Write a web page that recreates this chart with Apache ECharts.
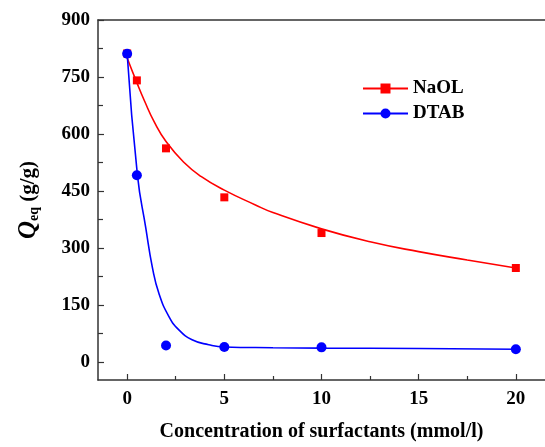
<!DOCTYPE html>
<html>
<head>
<meta charset="utf-8">
<script src="https://cdn.jsdelivr.net/npm/echarts@6/dist/echarts.min.js"></script>
<style>html,body{margin:0;padding:0;background:#fff}#chart{width:545px;height:447px}</style>
</head>
<body>
<div id="chart"></div>
<script>
// measured points
var conc = [0, 0.5, 2, 5, 10, 20];
var naolVals = [812, 741, 562, 433, 339, 247];
var dtabVals = [811, 491, 43, 39, 38, 33];

// fitted curves
var naolFitX = [0, 0.5, 0.9, 1.4, 2, 2.9, 3.8, 5, 6.6, 7.5, 10, 12.5, 15, 17.5, 20];
var naolFitY = [800, 735, 686, 631, 580, 526, 488, 452, 413, 393, 350, 316, 290, 268, 247];
var dtabFitX = [0, 0.53, 0.96, 1.3, 1.64, 2.15, 2.66, 3.34, 4.2, 5, 7.5, 10, 15, 20];
var dtabFitY = [811, 491, 352, 248, 179, 119, 84, 58, 45, 39, 37, 36, 35, 33];

var xTicks = [0, 5, 10, 15, 20];
var xMinor = [2.5, 7.5, 12.5, 17.5];
var yTicks = [0, 150, 300, 450, 600, 750, 900];
var yMinor = [75, 225, 375, 525, 675, 825];

function pairs(xs, ys) {
    var out = [];
    for (var i = 0; i < xs.length; i++) out.push([xs[i], ys[i]]);
    return out;
}

var font = 'Liberation Serif';
var axisCol = '#333';
var lbl = {fontFamily: font, fontWeight: 'bold', fontSize: 19, color: '#000'};

var chart = echarts.init(document.getElementById('chart'));
var option = {
    animation: false,
    backgroundColor: '#fff',
    grid: {left: 98, top: 20, width: 450, height: 364},
    legend: {
        orient: 'vertical',
        left: 357,
        top: 74,
        itemWidth: 45,
        itemHeight: 12.5,
        itemGap: 6,
        data: ['NaOL', 'DTAB'],
        textStyle: {fontFamily: font, fontWeight: 'bold', fontSize: 19, color: '#000'}
    },
    xAxis: [
        {
            type: 'value', min: -1.5, max: 21.5, position: 'bottom',
            name: 'Concentration of surfactants (mmol/l)',
            nameLocation: 'middle', nameGap: 42,
            nameTextStyle: {fontFamily: font, fontWeight: 'bold', fontSize: 20, color: '#000'},
            axisLine: {onZero: false, lineStyle: {color: axisCol, width: 1.5}},
            axisTick: {inside: true, length: 6, customValues: xTicks, lineStyle: {color: axisCol, width: 1.2}},
            axisLabel: Object.assign({margin: 10, customValues: xTicks}, lbl),
            splitLine: {show: false}
        },
        {
            type: 'value', min: -1.5, max: 21.5, position: 'bottom',
            axisLine: {show: false, onZero: false},
            axisTick: {inside: true, length: 4, customValues: xMinor, lineStyle: {color: axisCol, width: 1.2}},
            axisLabel: {show: false},
            splitLine: {show: false}
        },
        {
            type: 'value', min: -1.5, max: 21.5, position: 'top',
            axisLine: {onZero: false, lineStyle: {color: axisCol, width: 1.5}},
            axisTick: {show: false},
            axisLabel: {show: false},
            splitLine: {show: false}
        }
    ],
    yAxis: [
        {
            type: 'value', min: -48, max: 900, position: 'left',
            name: '{q|Q}{s|eq}{n| (g/g)}',
            nameLocation: 'middle', nameGap: 57, nameRotate: 90,
            nameTextStyle: {
                color: '#000',
                rich: {
                    q: {fontFamily: font, fontWeight: 'bold', fontStyle: 'italic', fontSize: 25, color: '#000'},
                    s: {fontFamily: font, fontWeight: 'bold', fontSize: 14, color: '#000', verticalAlign: 'bottom'},
                    n: {fontFamily: font, fontWeight: 'bold', fontSize: 21, color: '#000'}
                }
            },
            axisLine: {onZero: false, lineStyle: {color: axisCol, width: 1.5}},
            axisTick: {inside: true, length: 6, customValues: yTicks, lineStyle: {color: axisCol, width: 1.2}},
            axisLabel: Object.assign({margin: 8, customValues: yTicks}, lbl),
            splitLine: {show: false}
        },
        {
            type: 'value', min: -48, max: 900, position: 'left',
            axisLine: {show: false, onZero: false},
            axisTick: {inside: true, length: 5, customValues: yMinor, lineStyle: {color: axisCol, width: 1.2}},
            axisLabel: {show: false},
            splitLine: {show: false}
        }
    ],
    series: [
        {
            name: 'NaOL', type: 'line', smooth: 0.5,
            symbol: 'rect', showSymbol: false,
            data: pairs(naolFitX, naolFitY),
            lineStyle: {color: '#ff0000', width: 1.6},
            itemStyle: {color: '#ff0000'}
        },
        {
            name: 'DTAB', type: 'line', smooth: 0.5,
            symbol: 'circle', showSymbol: false,
            data: pairs(dtabFitX, dtabFitY),
            lineStyle: {color: '#0000ff', width: 1.6},
            itemStyle: {color: '#0000ff'}
        },
        {
            name: 'NaOL', type: 'scatter', symbol: 'rect', symbolSize: 8,
            data: pairs(conc, naolVals),
            itemStyle: {color: '#ff0000', opacity: 1}
        },
        {
            name: 'DTAB', type: 'scatter', symbol: 'circle', symbolSize: 10,
            data: pairs(conc, dtabVals),
            itemStyle: {color: '#0000ff', opacity: 1}
        }
    ]
};
chart.setOption(option);
</script>
</body>
</html>
